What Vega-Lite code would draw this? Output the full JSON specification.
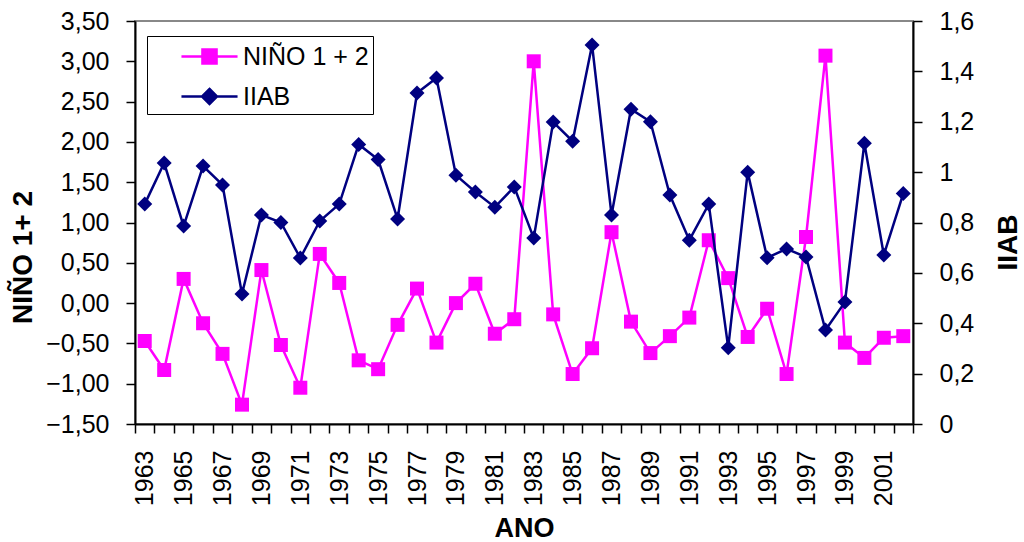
{
  "$schema": "https://vega.github.io/schema/vega-lite/v6.json",
  "width": 778,
  "height": 403,
  "autosize": {"type": "none"},
  "padding": {"left": 135, "top": 21, "right": 111, "bottom": 118},
  "background": "white",
  "config": {
    "font": "Liberation Sans",
    "view": {"stroke": "#888888", "strokeWidth": 2},
    "axis": {
      "domainColor": "black", "domainWidth": 2, "tickColor": "black", "tickWidth": 1.5, "tickSize": 9,
      "labelFont": "Liberation Sans", "labelFontSize": 25, "labelColor": "black",
      "titleFont": "Liberation Sans", "titleFontSize": 28, "titleFontWeight": "bold", "titleColor": "black",
      "grid": false
    }
  },
  "data": {"values": [
    {"ano": 1963, "nino": -0.47, "iiab": 0.873},
    {"ano": 1964, "nino": -0.83, "iiab": 1.036},
    {"ano": 1965, "nino": 0.30, "iiab": 0.786},
    {"ano": 1966, "nino": -0.25, "iiab": 1.024},
    {"ano": 1967, "nino": -0.63, "iiab": 0.949},
    {"ano": 1968, "nino": -1.26, "iiab": 0.516},
    {"ano": 1969, "nino": 0.41, "iiab": 0.83},
    {"ano": 1970, "nino": -0.52, "iiab": 0.80},
    {"ano": 1971, "nino": -1.05, "iiab": 0.659},
    {"ano": 1972, "nino": 0.61, "iiab": 0.806},
    {"ano": 1973, "nino": 0.25, "iiab": 0.873},
    {"ano": 1974, "nino": -0.71, "iiab": 1.11},
    {"ano": 1975, "nino": -0.82, "iiab": 1.05},
    {"ano": 1976, "nino": -0.27, "iiab": 0.814},
    {"ano": 1977, "nino": 0.18, "iiab": 1.314},
    {"ano": 1978, "nino": -0.49, "iiab": 1.374},
    {"ano": 1979, "nino": 0.00, "iiab": 0.988},
    {"ano": 1980, "nino": 0.24, "iiab": 0.921},
    {"ano": 1981, "nino": -0.38, "iiab": 0.861},
    {"ano": 1982, "nino": -0.20, "iiab": 0.941},
    {"ano": 1983, "nino": 3.00, "iiab": 0.738},
    {"ano": 1984, "nino": -0.14, "iiab": 1.199},
    {"ano": 1985, "nino": -0.88, "iiab": 1.123},
    {"ano": 1986, "nino": -0.56, "iiab": 1.505},
    {"ano": 1987, "nino": 0.88, "iiab": 0.83},
    {"ano": 1988, "nino": -0.23, "iiab": 1.25},
    {"ano": 1989, "nino": -0.62, "iiab": 1.20},
    {"ano": 1990, "nino": -0.41, "iiab": 0.909},
    {"ano": 1991, "nino": -0.18, "iiab": 0.73},
    {"ano": 1992, "nino": 0.78, "iiab": 0.873},
    {"ano": 1993, "nino": 0.31, "iiab": 0.303},
    {"ano": 1994, "nino": -0.42, "iiab": 1.0},
    {"ano": 1995, "nino": -0.07, "iiab": 0.66},
    {"ano": 1996, "nino": -0.88, "iiab": 0.695},
    {"ano": 1997, "nino": 0.82, "iiab": 0.663},
    {"ano": 1998, "nino": 3.07, "iiab": 0.373},
    {"ano": 1999, "nino": -0.49, "iiab": 0.484},
    {"ano": 2000, "nino": -0.68, "iiab": 1.115},
    {"ano": 2001, "nino": -0.43, "iiab": 0.671},
    {"ano": 2002, "nino": -0.41, "iiab": 0.915}
  ]},
  "encoding": {
    "x": {
      "field": "ano", "type": "ordinal",
      "scale": {"type": "band", "paddingInner": 0, "paddingOuter": 0},
      "axis": {
        "title": "ANO", "labelAngle": -90, "labelAlign": "right", "labelBaseline": "middle",
        "labelPadding": 17, "tickBand": "extent",
        "labelExpr": "datum.value % 2 == 1 ? datum.label : ''",
        "titleFontSize": 27, "titleY": 112, "titleBaseline": "alphabetic"
      }
    }
  },
  "layer": [
    {
      "encoding": {
        "y": {
          "field": "nino", "type": "quantitative",
          "scale": {"domain": [-1.5, 3.5], "nice": false, "zero": false},
          "axis": {
            "orient": "left", "title": "NIÑO 1+ 2",
            "values": [-1.5, -1, -0.5, 0, 0.5, 1, 1.5, 2, 2.5, 3, 3.5],
            "labelExpr": "replace(format(datum.value, '.2f'), '.', ',')",
            "labelPadding": 17, "titleAngle": -90, "titleX": -112, "titleY": 236,
            "titleAlign": "center", "titleBaseline": "middle"
          }
        }
      },
      "layer": [
        {
          "mark": {"type": "line", "strokeWidth": 2.5},
          "encoding": {
            "color": {
              "datum": "NIÑO 1 + 2",
              "scale": {"domain": ["NIÑO 1 + 2", "IIAB"], "range": ["#FF00FF", "#000080"]},
              "legend": {
                "title": null, "orient": "none", "legendX": 12, "legendY": 15,
                "strokeColor": "black", "fillColor": "white", "padding": 4,
                "labelFont": "Liberation Sans", "labelFontSize": 25, "labelColor": "black",
                "symbolSize": 900, "symbolOffset": 42, "labelOffset": 17, "rowPadding": 10,
                "symbolStrokeWidth": 2.5,
                "encode": {
                  "symbols": {"update": {
                    "shape": {"signal": "datum.value == 'IIAB' ? 'M-1.87,0H1.87M0,-0.5L0.5,0L0,0.5L-0.5,0Z' : 'M-1.87,0H1.87M-0.47,-0.47H0.47V0.47H-0.47Z'"},
                    "fill": {"signal": "datum.value == 'IIAB' ? '#000080' : '#FF00FF'"},
                    "fillOpacity": {"value": 1},
                    "stroke": {"signal": "datum.value == 'IIAB' ? '#000080' : '#FF00FF'"},
                    "strokeWidth": {"value": 2.5}
                  }}
                }
              }
            }
          }
        },
        {"mark": {"type": "point", "shape": "square", "filled": true, "size": 196, "color": "#FF00FF", "opacity": 1}}
      ]
    },
    {
      "encoding": {
        "y": {
          "field": "iiab", "type": "quantitative",
          "scale": {"domain": [0, 1.6], "nice": false},
          "axis": {
            "orient": "right", "title": "IIAB",
            "values": [0, 0.2, 0.4, 0.6, 0.8, 1, 1.2, 1.4, 1.6],
            "labelExpr": "replace(format(datum.value, '.1~f'), '.', ',')",
            "labelPadding": 17, "titleAngle": -90, "titleX": 95, "titleY": 221,
            "titleAlign": "center", "titleBaseline": "middle"
          }
        }
      },
      "layer": [
        {"mark": {"type": "line", "strokeWidth": 2.5}, "encoding": {"color": {"datum": "IIAB"}}},
        {"mark": {"type": "point", "shape": "diamond", "filled": true, "size": 225, "color": "#000080", "opacity": 1}}
      ]
    }
  ],
  "resolve": {"scale": {"y": "independent"}}
}
